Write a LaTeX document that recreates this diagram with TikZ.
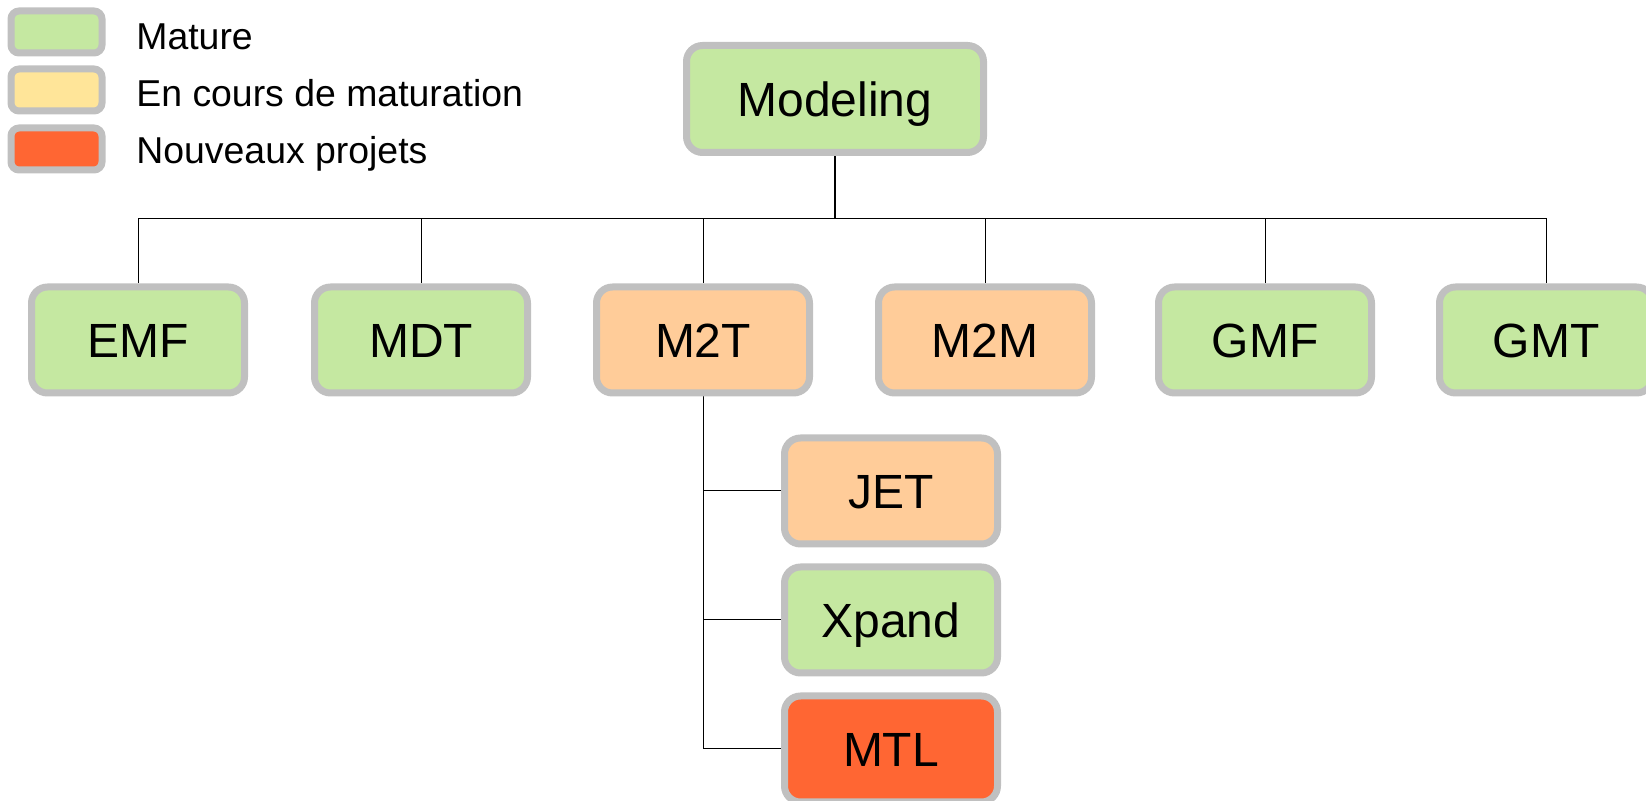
\documentclass[tikz,border=0pt]{standalone}
\usepackage{fontspec}
\setmainfont{Liberation Sans}
\usetikzlibrary{backgrounds}
\definecolor{mature}{RGB}{197,232,161}
\definecolor{encours}{RGB}{255,204,153}
\definecolor{encourslg}{RGB}{255,229,153}
\definecolor{nouveau}{RGB}{255,102,51}
\definecolor{bord}{RGB}{192,192,192}

\begin{document}
\begin{tikzpicture}[x=0.5pt,y=-0.5pt,
  projet/.style={draw=bord, line width=3.5pt, rounded corners=8pt,
    minimum width=106.5pt, minimum height=53pt, inner sep=0pt,
    font=\fontsize{24}{28}\selectfont, text height=17.2pt, text depth=0pt},
  legende/.style={draw=bord, line width=3.5pt, rounded corners=4pt,
    minimum width=45.5pt, minimum height=21pt, inner sep=0pt},
  legtexte/.style={anchor=west, inner sep=0pt,
    font=\fontsize{18.7}{22}\selectfont, text height=13.4pt, text depth=0pt},
  lien/.style={line width=0.5pt}]
\useasboundingbox (0,0) rectangle (1646,801);

% legende
\node [legende, fill=mature] (lgmature) at (56.5,32) {};
\node [legende, fill=encourslg] (lgencours) at (56.5,90) {};
\node [legende, fill=nouveau] (lgnouveau) at (56.5,149) {};
\node [legtexte] (txmature) at (136,36) {Mature};
\node [legtexte] (txencours) at (136,93) {En cours de maturation};
\node [legtexte] (txnouveau) at (136,150) {Nouveaux projets};

% projets
\node [projet, fill=mature, minimum width=148.5pt, minimum height=53.5pt] (modeling) at (835,99) {Modeling};

\node [projet, fill=mature] (emf) at (138,340) {EMF};
\node [projet, fill=mature] (mdt) at (421,340) {MDT};
\node [projet, fill=encours] (m2t) at (703,340) {M2T};
\node [projet, fill=encours] (m2m) at (985,340) {M2M};
\node [projet, fill=mature] (gmf) at (1265,340) {GMF};
\node [projet, fill=mature] (gmt) at (1546,340) {GMT};

\node [projet, fill=encours] (jet) at (891,491) {JET};
\node [projet, fill=mature] (xpand) at (891,620) {Xpand};
\node [projet, fill=nouveau] (mtl) at (891,749) {MTL};

% liens
\begin{scope}[on background layer]
\coordinate (bus) at (835,219);
\draw [line width=1pt] (modeling.south) -- (bus);
\foreach \p in {emf,mdt,m2t,m2m,gmf,gmt}
  \draw [lien] (\p.north) |- (bus);
\foreach \p in {jet,xpand,mtl}
  \draw [lien] (m2t.south) |- (\p.west);
\end{scope}
\end{tikzpicture}
\end{document}
